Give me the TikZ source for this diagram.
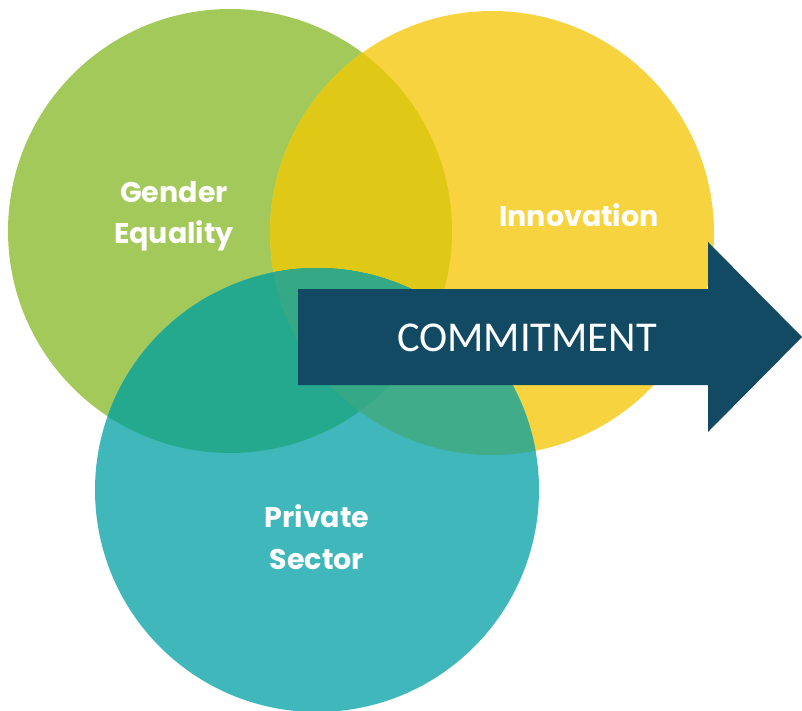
\documentclass[tikz,border=0pt]{standalone}
\usepackage{fontspec}
\newfontfamily\labelfont{Poppins}
\newfontfamily\arrowfont{Carlito}
\definecolor{cgreen}{HTML}{A3C95A}
\definecolor{cyellow}{HTML}{F7D43F}
\definecolor{cgy}{HTML}{E0C916}
\definecolor{cteal}{HTML}{3FB7BB}
\definecolor{ctg}{HTML}{24A98E}
\definecolor{cty}{HTML}{41AC8A}
\definecolor{ctri}{HTML}{35A985}
\definecolor{carrow}{HTML}{114A62}
\begin{document}
\begin{tikzpicture}[x=1pt,y=-1pt,
  lbl/.style={text=white,font=\labelfont\bfseries\fontsize{28.5}{41.5}\selectfont,align=center}]
\useasboundingbox (0,0) rectangle (802,711);
\def\G{(230,231) circle[radius=222]}
\def\Y{(492,233) circle[radius=222]}
\def\T{(317,490) circle[radius=222]}
\fill[cgreen] \G;
\fill[cyellow] \Y;
\begin{scope}\clip \G; \fill[cgy] \Y; \end{scope}
\fill[cteal] \T;
\begin{scope}\clip \T; \fill[ctg] \G; \end{scope}
\begin{scope}\clip \T; \fill[cty] \Y; \end{scope}
\begin{scope}\clip \T; \clip \G; \fill[ctri] \Y; \end{scope}
\node[lbl] (ge) at (174,216) {Gender\\Equality};
\node[lbl] (inn) at (579,215) {Innovation};
\node[lbl] (ps) at (317,537) {Private\\Sector};
\fill[carrow] (298,289) -- (708,289) -- (708,242) -- (802,337) -- (708,432) -- (708,385) -- (298,385) -- cycle;
\node[text=white,font=\arrowfont\fontsize{42.5}{48}\selectfont] (cm) at (527,338) {COMMITMENT};
\end{tikzpicture}
\end{document}
